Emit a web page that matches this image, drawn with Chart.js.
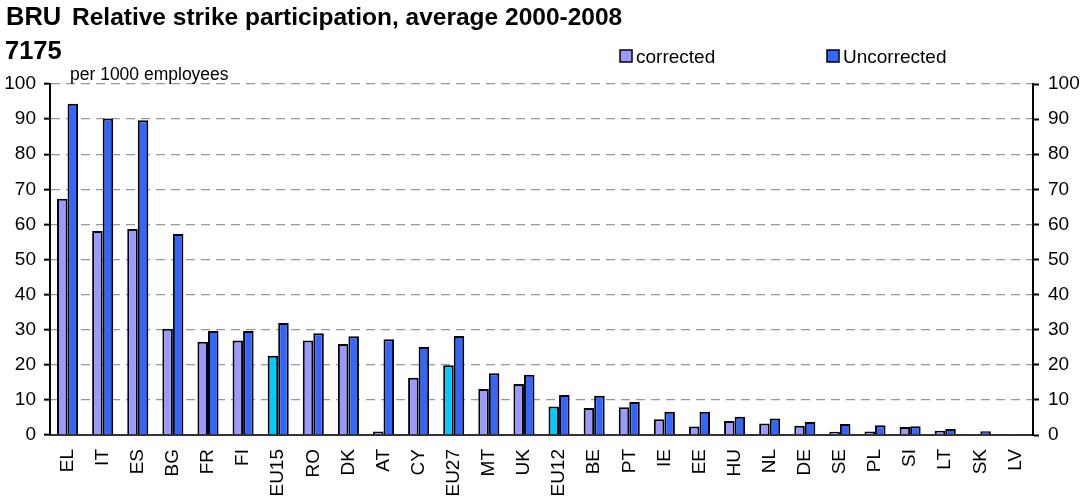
<!DOCTYPE html>
<html>
<head>
<meta charset="utf-8">
<script src="https://cdn.jsdelivr.net/npm/chart.js@4"></script>
<style>
  html, body { margin: 0; padding: 0; background: #fff; }
  #wrap { width: 1085px; height: 500px; }
</style>
</head>
<body>
<div id="wrap"><canvas id="strikeChart" width="1085" height="500"></canvas></div>
<script>
const countries = ["EL", "IT", "ES", "BG", "FR", "FI", "EU15", "RO", "DK", "AT", "CY", "EU27", "MT", "UK",
    "EU12", "BE", "PT", "IE", "EE", "HU", "NL", "DE", "SE", "PL", "SI", "LT", "SK", "LV"];
const corrected = [67.3, 58.1, 58.7, 30.3, 26.6, 26.9, 22.6, 26.9, 25.9, 1.0, 16.3, 19.9, 13.1, 14.5,
    8.1, 7.7, 7.9, 4.5, 2.4, 4.0, 3.3, 2.6, 0.95, 1.0, 2.3, 1.2, 0.1, 0.1];
const uncorrected = [94.4, 90.2, 89.7, 57.3, 29.6, 29.6, 31.9, 29.0, 28.1, 27.3, 25.1, 28.2, 17.6, 17.2,
    11.4, 11.2, 9.4, 6.6, 6.6, 5.2, 4.7, 3.7, 3.1, 2.8, 2.5, 1.7, 1.1, 0.1];
const aggregates = ["EU15", "EU27", "EU12"];
const yTicks = [0, 10, 20, 30, 40, 50, 60, 70, 80, 90, 100];

const FONT = "'Liberation Sans', Arial, sans-serif";
const LIGHT = "#9999FF";
const DARK = "#3366FF";
const CYAN = "#00CCFF";

// EU averages get their own colour in the corrected series
const correctedColors = countries.map(c => aggregates.includes(c) ? CYAN : LIGHT);

// header texts and the legend boxes
const headerPlugin = {
    id: "header",
    afterDraw(chart) {
        const ctx = chart.ctx;
        ctx.save();
        ctx.fillStyle = "#000";
        ctx.textBaseline = "alphabetic";
        ctx.textAlign = "left";
        ctx.font = "bold 25.5px " + FONT;
        ctx.fillText("BRU", 6, 25);
        ctx.fillText("7175", 5, 59);
        ctx.font = "bold 24.5px " + FONT;
        ctx.fillText("Relative strike participation, average 2000-2008", 72, 25);
        ctx.font = "17.5px " + FONT;
        ctx.fillText("per 1000 employees", 70, 80);

        const items = [["corrected", LIGHT, 620], ["Uncorrected", DARK, 827]];
        items.forEach(([label, color, x]) => {
            ctx.fillStyle = color;
            ctx.fillRect(x, 50, 12, 12);
            ctx.strokeStyle = "#000";
            ctx.lineWidth = 1.5;
            ctx.strokeRect(x, 50, 12, 12);
            ctx.fillStyle = "#000";
            ctx.font = "19px " + FONT;
            ctx.fillText(label, x + 16, 63);
        });
        ctx.restore();
    }
};

const tickFont = { family: FONT, size: 19 };

new Chart(document.getElementById("strikeChart"), {
    type: "bar",
    data: {
        labels: countries,
        datasets: [
            {
                label: "corrected",
                data: corrected,
                backgroundColor: correctedColors,
                borderColor: "#000",
                borderWidth: 2,
                yAxisID: "y"
            },
            {
                label: "Uncorrected",
                data: uncorrected,
                backgroundColor: DARK,
                borderColor: "#000",
                borderWidth: 2,
                yAxisID: "y"
            }
        ]
    },
    options: {
        responsive: false,
        animation: false,
        devicePixelRatio: 1,
        categoryPercentage: 0.6,
        barPercentage: 1.0,
        layout: { padding: { top: 84, left: 0, right: 0, bottom: 0 } },
        plugins: {
            legend: { display: false },
            tooltip: { enabled: false },
            title: { display: false }
        },
        scales: {
            x: {
                grid: { display: true, drawOnChartArea: false, drawTicks: false },
                border: { display: true, color: "#333", width: 2 },
                ticks: {
                    color: "#000",
                    font: tickFont,
                    minRotation: 90,
                    maxRotation: 90,
                    autoSkip: false,
                    padding: 14
                },
                afterFit(scale) { scale.height = 65; }
            },
            y: {
                position: "left",
                min: 0,
                max: 100,
                afterBuildTicks(scale) { scale.ticks = yTicks.map(v => ({ value: v })); },
                grid: {
                    color: ctx => ctx.tick && ctx.tick.value === 0 ? "rgba(0,0,0,0)" : "#999",
                    lineWidth: 1.3,
                    tickLength: 6,
                    tickColor: "#000",
                    tickWidth: 2
                },
                border: { display: true, color: "#000", width: 2, dash: [9, 6] },
                ticks: { color: "#000", font: tickFont, padding: 8 },
                afterFit(scale) { scale.width = 50; }
            },
            y2: {
                position: "right",
                min: 0,
                max: 100,
                afterBuildTicks(scale) { scale.ticks = yTicks.map(v => ({ value: v })); },
                grid: {
                    drawOnChartArea: false,
                    tickLength: 6,
                    tickColor: "#000",
                    tickWidth: 2
                },
                border: { display: true, color: "#000", width: 2 },
                ticks: { color: "#000", font: tickFont, padding: 9 },
                afterFit(scale) { scale.width = 52; }
            }
        }
    },
    plugins: [headerPlugin]
});
</script>
</body>
</html>
